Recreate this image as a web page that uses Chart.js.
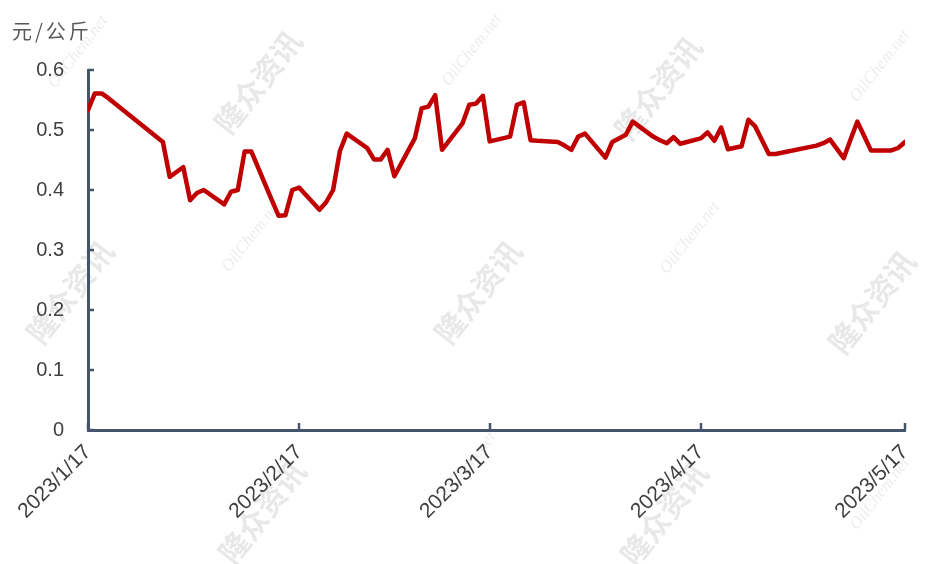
<!DOCTYPE html>
<html>
<head>
<meta charset="utf-8">
<script src="https://cdn.jsdelivr.net/npm/chart.js@4.4.0/dist/chart.umd.min.js"></script>
<style>
  html, body { margin: 0; padding: 0; background: #fff; }
  #wrap { width: 940px; height: 564px; }
</style>
</head>
<body>
<div id="wrap"><canvas id="chart"></canvas></div>
<script>
const dates = ['2023/1/17','2023/1/18','2023/1/19','2023/1/20','2023/1/28','2023/1/29','2023/1/30','2023/1/31',
  '2023/2/1','2023/2/2','2023/2/3','2023/2/6','2023/2/7','2023/2/8','2023/2/9','2023/2/10','2023/2/13','2023/2/14',
  '2023/2/15','2023/2/16','2023/2/17','2023/2/20','2023/2/21','2023/2/22','2023/2/23','2023/2/24','2023/2/27','2023/2/28',
  '2023/3/1','2023/3/2','2023/3/3','2023/3/6','2023/3/7','2023/3/8','2023/3/9','2023/3/10','2023/3/13','2023/3/14',
  '2023/3/15','2023/3/16','2023/3/17','2023/3/20','2023/3/21','2023/3/22','2023/3/23','2023/3/24','2023/3/27','2023/3/28',
  '2023/3/29','2023/3/30','2023/3/31','2023/4/3','2023/4/4','2023/4/6','2023/4/7','2023/4/10','2023/4/11','2023/4/12',
  '2023/4/13','2023/4/14','2023/4/17','2023/4/18','2023/4/19','2023/4/20','2023/4/21','2023/4/23','2023/4/24','2023/4/25',
  '2023/4/26','2023/4/27','2023/4/28','2023/5/4','2023/5/5','2023/5/6','2023/5/8','2023/5/9','2023/5/10','2023/5/11',
  '2023/5/12','2023/5/15','2023/5/16','2023/5/17'];
const prices = [0.533,0.561,0.561,0.553,0.480,0.422,0.430,0.438,
  0.383,0.395,0.400,0.376,0.397,0.400,0.464,0.464,0.383,0.357,
  0.358,0.400,0.404,0.367,0.380,0.400,0.465,0.494,0.470,0.451,
  0.451,0.467,0.423,0.486,0.536,0.539,0.558,0.467,0.511,0.542,
  0.544,0.557,0.481,0.489,0.542,0.546,0.483,0.482,0.480,0.474,
  0.467,0.489,0.494,0.454,0.480,0.492,0.514,0.489,0.483,0.478,
  0.488,0.477,0.486,0.496,0.482,0.504,0.468,0.473,0.517,0.506,
  0.483,0.460,0.460,0.474,0.478,0.484,0.453,0.484,0.514,0.490,
  0.466,0.466,0.470,0.480];
const tickDates = ['2023/1/17','2023/2/17','2023/3/17','2023/4/17','2023/5/17'];
const yTicks = [0, 0.1, 0.2, 0.3, 0.4, 0.5, 0.6];
const unitLabel = '元/公斤';

const axisColor = '#44546A';

function dayNo(s) {
  const p = s.split('/').map(Number);
  return (Date.UTC(p[0], p[1] - 1, p[2]) - Date.UTC(2023, 0, 17)) / 86400000;
}

const points = dates.map((d, i) => ({ x: dayNo(d), y: prices[i] }));

// inward tick marks + unit label + watermark
const decor = {
  id: 'decor',
  beforeDraw(chart) {
    const ctx = chart.ctx;
    ctx.save();
    ctx.fillStyle = 'rgba(120,120,120,0.17)';
    const marks = [[258, 82], [658, 88], [70, 292], [478, 292], [872, 302], [262, 512], [664, 514]];
    marks.forEach(m => {
      ctx.save();
      ctx.translate(m[0], m[1]);
      ctx.rotate(-52 * Math.PI / 180);
      ctx.font = 'bold 30px "Noto Sans CJK SC"';
      ctx.textAlign = 'center';
      ctx.textBaseline = 'middle';
      ctx.fillText('隆众资讯', 0, 0);
      ctx.restore();
    });
    ctx.fillStyle = 'rgba(120,120,120,0.14)';
    const nets = [[78, 52], [472, 50], [880, 66], [252, 236], [690, 238], [466, 468], [880, 494]];
    nets.forEach(m => {
      ctx.save();
      ctx.translate(m[0], m[1]);
      ctx.rotate(-52 * Math.PI / 180);
      ctx.font = 'italic 17px "Liberation Serif"';
      ctx.textAlign = 'center';
      ctx.textBaseline = 'middle';
      ctx.fillText('OilChem.net', 0, 0);
      ctx.restore();
    });
    ctx.restore();
  },
  afterDraw(chart) {
    const ctx = chart.ctx;
    const x = chart.scales.x, y = chart.scales.y;
    const a = chart.chartArea;
    ctx.save();
    ctx.strokeStyle = axisColor;
    ctx.lineWidth = 2.5;
    y.ticks.forEach(t => {
      const py = Math.round(y.getPixelForValue(t.value));
      ctx.beginPath();
      ctx.moveTo(a.left, py);
      ctx.lineTo(a.left + 6, py);
      ctx.stroke();
    });
    x.ticks.forEach(t => {
      const px = Math.round(x.getPixelForValue(t.value));
      ctx.beginPath();
      ctx.moveTo(px, a.bottom);
      ctx.lineTo(px, a.bottom - 7);
      ctx.stroke();
    });
    ctx.fillStyle = '#595959';
    ctx.font = '20px "Noto Sans CJK SC"';
    ctx.letterSpacing = '3px';
    ctx.textBaseline = 'middle';
    ctx.fillText(unitLabel, 12, 31);
    ctx.restore();
  }
};

new Chart(document.getElementById('chart'), {
  type: 'line',
  data: {
    datasets: [{
      label: '价格',
      data: points,
      borderColor: '#C00000',
      borderWidth: 4.5,
      pointRadius: 0,
      tension: 0,
      borderJoinStyle: 'round',
      borderCapStyle: 'round',
      fill: false
    }]
  },
  options: {
    responsive: true,
    maintainAspectRatio: false,
    animation: false,
    layout: { padding: { left: 0, top: 70, right: 35, bottom: 0 } },
    plugins: {
      legend: { display: false },
      tooltip: { enabled: false }
    },
    scales: {
      x: {
        type: 'linear',
        min: 0,
        max: dayNo('2023/5/17'),
        afterBuildTicks(scale) {
          scale.ticks = tickDates.map(d => ({ value: dayNo(d) }));
        },
        afterFit(scale) { scale.height = 134; },
        grid: { display: true, drawOnChartArea: false, drawTicks: false, color: 'rgba(0,0,0,0)' },
        border: { display: true, color: axisColor, width: 3 },
        ticks: {
          autoSkip: false,
          minRotation: 45,
          maxRotation: 45,
          padding: 10,
          color: '#404040',
          font: { family: 'Liberation Sans', size: 21 },
          callback(v) {
            const i = tickDates.findIndex(d => dayNo(d) === v);
            return i >= 0 ? tickDates[i] : null;
          }
        }
      },
      y: {
        min: 0,
        max: 0.6,
        afterBuildTicks(scale) {
          scale.ticks = yTicks.map(v => ({ value: v }));
        },
        afterFit(scale) { scale.width = 88; },
        grid: { display: true, drawOnChartArea: false, drawTicks: false, color: 'rgba(0,0,0,0)' },
        border: { display: true, color: axisColor, width: 3 },
        ticks: {
          padding: 24,
          color: '#404040',
          font: { family: 'Liberation Sans', size: 20 },
          callback(v) { return v === 0 ? '0' : v.toFixed(1); }
        }
      }
    }
  },
  plugins: [decor]
});
</script>
</body>
</html>
